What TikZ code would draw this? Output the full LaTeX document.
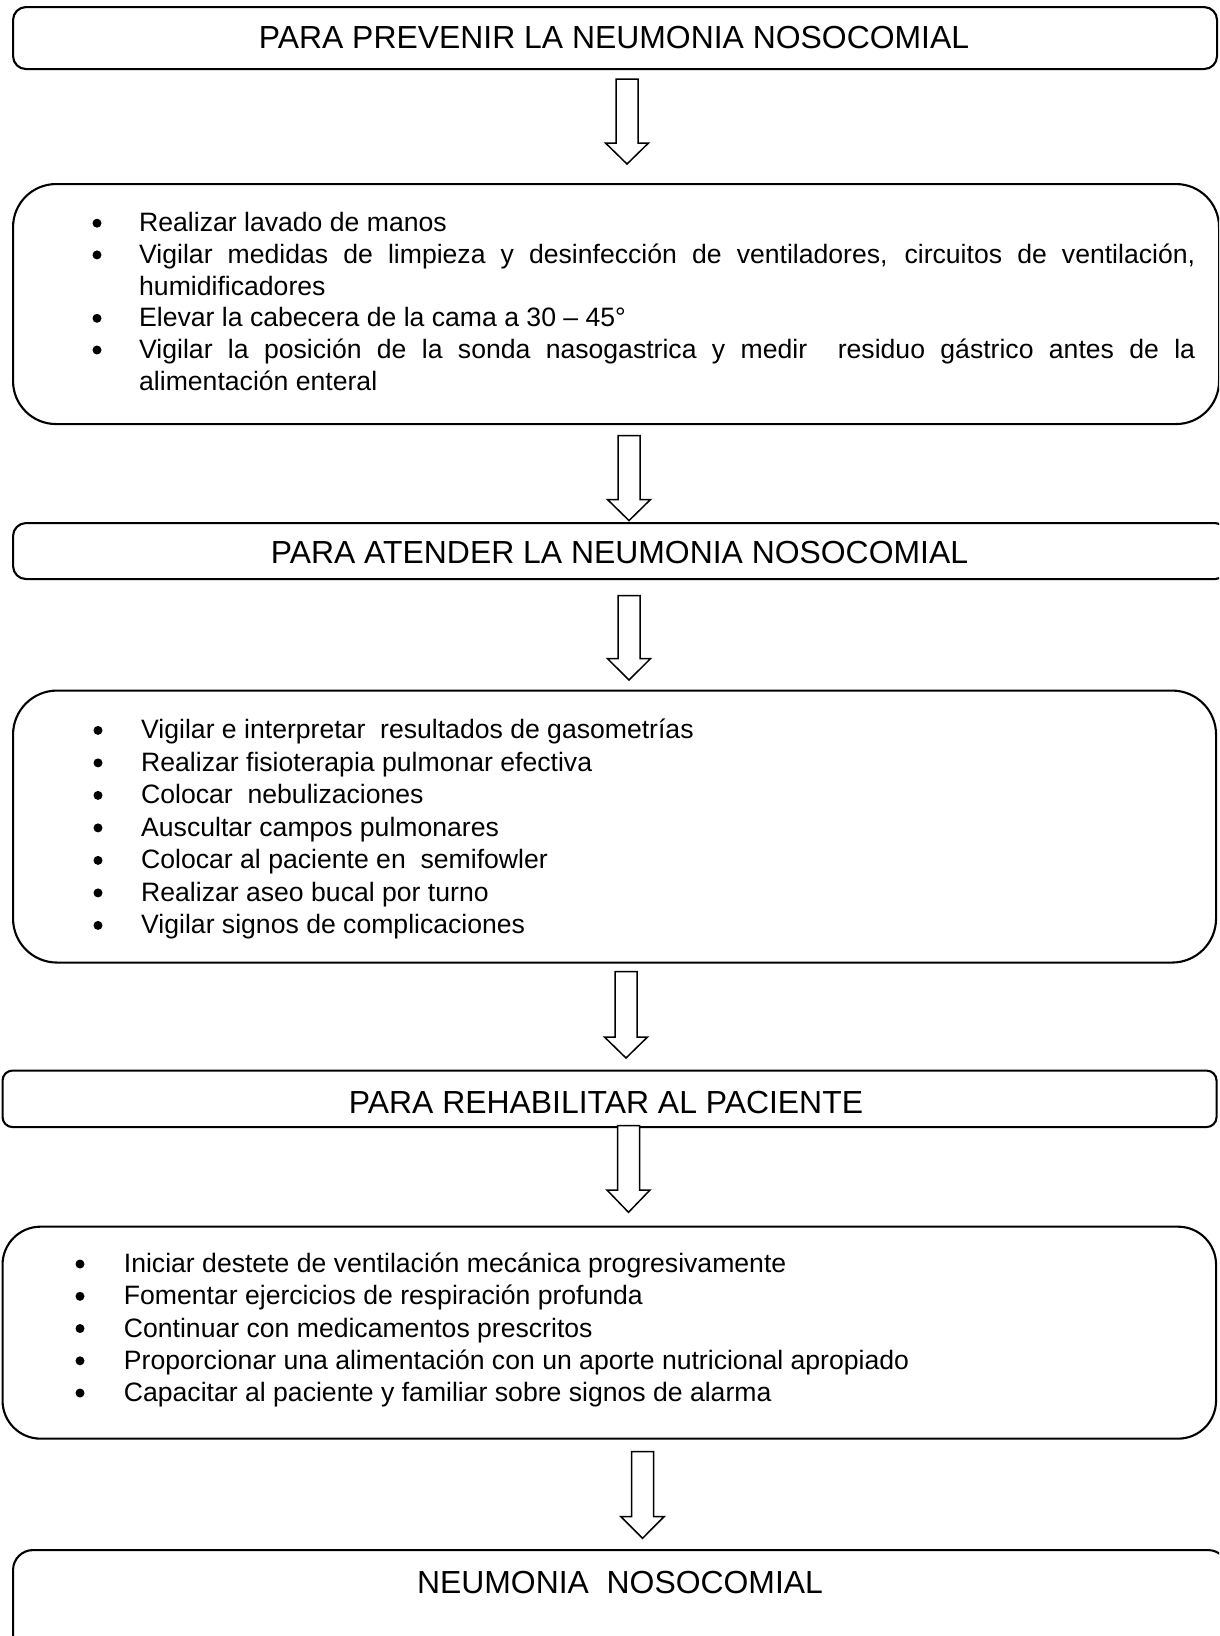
\documentclass[tikz,border=0pt]{standalone}
\usepackage{fontspec}
\setmainfont{Liberation Sans}
\newcommand\blockarrow[5]{% name, cx, ytop, yhead, ytip
  \draw[harrow] (#2-11,#3) -- (#2+11,#3) -- (#2+11,#4) -- (#2+21.5,#4) -- (#2,#5) -- (#2-21.5,#4) -- (#2-11,#4) -- cycle;
  \coordinate (#1) at (#2,#5);}
\begin{document}
\begin{tikzpicture}[x=1pt,y=-1pt,
  box/.style={draw, line width=2.1pt, anchor=north west, inner sep=0pt},
  hdr/.style={anchor=base, inner sep=0pt, font=\fontsize{31.9}{38}\selectfont},
  itm/.style={anchor=base west, inner sep=0pt, font=\fontsize{26.6}{32}\selectfont},
  bul/.style={circle, fill=black, inner sep=0pt, minimum size=9pt, yshift=8.5pt},
  harrow/.style={draw, line width=1.5pt, line join=miter, fill=white}]
\useasboundingbox (0,0) rectangle (1219,1636);
\clip (0,0) rectangle (1219,1636);

% boxes
\node[box, rounded corners=13, minimum width=1204, minimum height=62] (b1) at (12,6) {};
\node[box, rounded corners=43, minimum width=1206, minimum height=240] (b2) at (12,183) {};
\node[box, rounded corners=13, minimum width=1215, minimum height=56] (b3) at (12,522) {};
\node[box, rounded corners=44, minimum width=1203, minimum height=272] (b4) at (12,689.5) {};
\node[box, rounded corners=10, minimum width=1214, minimum height=56.5] (b5) at (1.5,1069.5) {};
\node[box, rounded corners=38, minimum width=1213.5, minimum height=212] (b6) at (1.5,1225.6) {};
\node[box, rounded corners=20, minimum width=1215, minimum height=150] (b7) at (12,1549) {};

% headers
\node[hdr] (h1) at (614,48) {PARA PREVENIR LA NEUMONIA NOSOCOMIAL};
\node[hdr] (h3) at (619.5,563.5) {PARA ATENDER LA NEUMONIA NOSOCOMIAL};
\node[hdr] (h5) at (606,1113.3) {PARA REHABILITAR AL PACIENTE};
\node[hdr] (h7) at (620,1593.3) {NEUMONIA\ \ NOSOCOMIAL};

% box 2 items
\node[bul] (p1) at (97,231.7) {};
\node[itm] (i1) at (139,231.7) {Realizar lavado de manos};
\node[bul] (p2) at (97,263.4) {};
\node[itm] (i2) at (139,263.4) {\makebox[1056pt][s]{Vigilar medidas de limpieza y desinfección de ventiladores, circuitos de ventilación,}};
\node[itm] (i2b) at (139,295.1) {humidificadores};
\node[bul] (p3) at (97,326.8) {};
\node[itm] (i3) at (139,326.8) {Elevar la cabecera de la cama a 30 – 45°};
\node[bul] (p4) at (97,358.5) {};
\node[itm] (i4) at (139,358.5) {\makebox[1056pt][s]{Vigilar la posición de la sonda nasogastrica y medir\ \ residuo gástrico antes de la}};
\node[itm] (i4b) at (139,390.2) {alimentación enteral};

% box 4 items
\node[bul] (q1) at (98,738.9) {};
\node[itm] (j1) at (141,738.9) {Vigilar e interpretar\ \ resultados de gasometrías};
\node[bul] (q2) at (98,771.4) {};
\node[itm] (j2) at (141,771.4) {Realizar fisioterapia pulmonar efectiva};
\node[bul] (q3) at (98,803.9) {};
\node[itm] (j3) at (141,803.9) {Colocar\ \ nebulizaciones};
\node[bul] (q4) at (98,836.4) {};
\node[itm] (j4) at (141,836.4) {Auscultar campos pulmonares};
\node[bul] (q5) at (98,868.9) {};
\node[itm] (j5) at (141,868.9) {Colocar al paciente en\ \ semifowler};
\node[bul] (q6) at (98,901.4) {};
\node[itm] (j6) at (141,901.4) {Realizar aseo bucal por turno};
\node[bul] (q7) at (98,933.9) {};
\node[itm] (j7) at (141,933.9) {Vigilar signos de complicaciones};

% box 6 items
\node[bul] (r1) at (80,1272.5) {};
\node[itm] (k1) at (123.7,1272.5) {Iniciar destete de ventilación mecánica progresivamente};
\node[bul] (r2) at (80,1304.8) {};
\node[itm] (k2) at (123.7,1304.8) {Fomentar ejercicios de respiración profunda};
\node[bul] (r3) at (80,1337.0) {};
\node[itm] (k3) at (123.7,1337.0) {Continuar con medicamentos prescritos};
\node[bul] (r4) at (80,1369.3) {};
\node[itm] (k4) at (123.7,1369.3) {Proporcionar una alimentación con un aporte nutricional apropiado};
\node[bul] (r5) at (80,1401.5) {};
\node[itm] (k5) at (123.7,1401.5) {Capacitar al paciente y familiar sobre signos de alarma};

% hollow block arrows
\blockarrow{a1}{627}{79}{143}{164}
\blockarrow{a2}{629}{435.5}{499.5}{520.6}
\blockarrow{a3}{629}{595.7}{658.6}{680}
\blockarrow{a4}{626}{971.7}{1037}{1058}
\blockarrow{a5}{628.5}{1125.7}{1190}{1212.3}
\blockarrow{a6}{642.5}{1451.7}{1516.7}{1538.3}
\end{tikzpicture}
\end{document}
